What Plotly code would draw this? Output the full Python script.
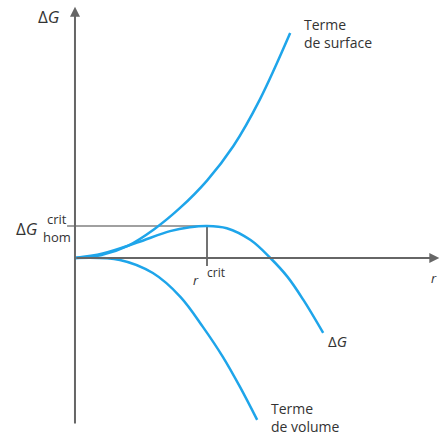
import plotly.graph_objects as go

# units: r in multiples of r_crit, G in multiples of dG_crit
r_surface = [0, 0.2, 0.4, 0.6, 0.8, 1.0, 1.2, 1.4, 1.63]
g_surface = [0, 0.09, 0.38, 0.90, 1.58, 2.42, 3.50, 4.95, 7.03]

r_total = [0, 0.21, 0.47, 0.72, 0.87, 1.0, 1.15, 1.33, 1.48, 1.61, 1.73, 1.88]
g_total = [0, 0.14, 0.48, 0.84, 0.96, 1.0, 0.93, 0.56, 0.0, -0.59, -1.31, -2.34]

r_volume = [0, 0.34, 0.59, 0.80, 0.97, 1.12, 1.25, 1.38]
g_volume = [0, -0.06, -0.47, -1.22, -2.16, -3.09, -4.03, -5.06]

r_crit = 1.0
g_crit = 1.0

blue = "#1ea5ea"
axis_col = "#666666"
txt = "#333333"
font = "Open Sans"

fig = go.Figure()

# level line at dG crit
fig.add_trace(go.Scatter(x=[-0.06, r_crit], y=[g_crit, g_crit], mode="lines",
                         line=dict(color="#a0a0a0", width=2), hoverinfo="skip"))
# r crit marker
fig.add_trace(go.Scatter(x=[r_crit, r_crit], y=[g_crit, -0.25], mode="lines",
                         line=dict(color="#444444", width=1.5), hoverinfo="skip"))

for xs, ys in [(r_surface, g_surface), (r_total, g_total), (r_volume, g_volume)]:
    fig.add_trace(go.Scatter(x=xs, y=ys, mode="lines", line_shape="spline",
                             line=dict(color=blue, width=2.5), hoverinfo="skip"))

ann = []
# axes with arrows
ann.append(dict(x=0, y=7.85, ax=0, ay=-5.22, xref="x", yref="y", axref="x", ayref="y",
                showarrow=True, arrowhead=2, arrowsize=1, arrowwidth=2, arrowcolor=axis_col, text=""))
ann.append(dict(x=2.76, y=0, ax=0, ay=0, xref="x", yref="y", axref="x", ayref="y",
                showarrow=True, arrowhead=2, arrowsize=1, arrowwidth=2, arrowcolor=axis_col, text=""))


def label(x, y, text, size, xanchor="center", align="center", italic=False):
    if italic:
        text = "<i>" + text + "</i>"
    ann.append(dict(x=x, y=y, xref="x", yref="y", text=text, showarrow=False,
                    xanchor=xanchor, yanchor="middle", align=align,
                    font=dict(family=font, size=size, color=txt, weight=500)))


dg = "Δ<i>G</i>"
label(-0.2, 7.56, dg, 17)
label(-0.36, 0.92, dg, 17)
label(-0.135, 1.22, "crit", 13)
label(-0.135, 0.66, "hom", 13)
label(0.92, -0.68, "r", 13, italic=True)
label(1.07, -0.45, "crit", 12)
label(2.72, -0.62, "r", 13, italic=True)
label(1.985, -2.59, dg, 15)
label(1.72, 7.03, "Terme<br>de surface", 14, xanchor="left", align="left")
label(1.47, -4.97, "Terme<br>de volume", 14, xanchor="left", align="left")

fig.update_layout(
    width=440, height=436,
    margin=dict(l=0, r=0, t=0, b=0),
    paper_bgcolor="white", plot_bgcolor="white",
    showlegend=False,
    annotations=ann,
    xaxis=dict(range=[-0.568, 2.765], visible=False, fixedrange=True),
    yaxis=dict(range=[-5.5625, 8.0625], visible=False, fixedrange=True),
)

fig.write_html("out.html", config={"displayModeBar": False},
               post_script="document.body.style.margin='0px';")
